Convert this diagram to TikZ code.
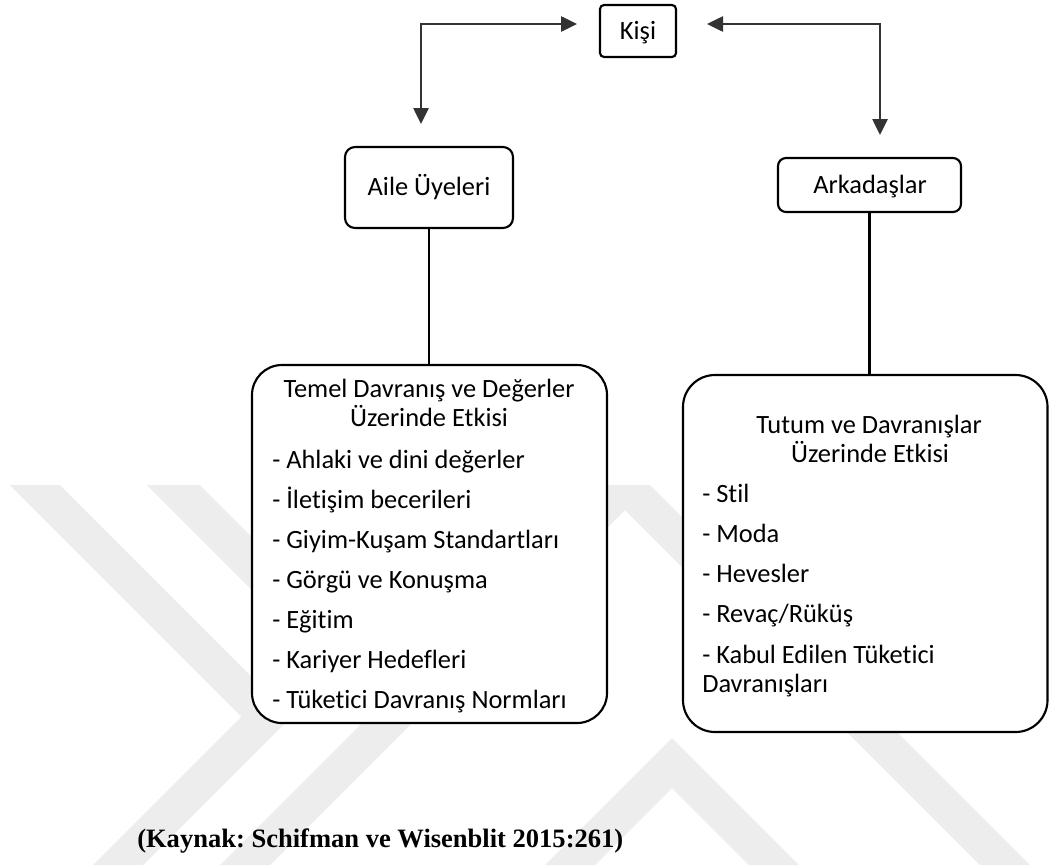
\documentclass[tikz,border=0pt]{standalone}
\usepackage{fontspec}
\setmainfont{Carlito}[Ligatures={NoCommon,NoContextual}]
\newfontfamily\refserif{Liberation Serif}
\usetikzlibrary{arrows.meta}
\frenchspacing

\definecolor{wm}{HTML}{EDEDED}
\definecolor{linkgray}{HTML}{333333}

\tikzset{
  px/.style={x=0.75pt, y=-0.75pt},
  panel/.style={draw=black, line width=1.6pt, fill=white, rounded corners=#1, inner sep=0pt},
  lbl/.style={inner sep=0pt, font={\fontsize{19.8}{21.75}\selectfont}},
  stem/.style={draw=black, line width=1.8pt},
  biarrow/.style={draw=linkgray, line width=1.1pt,
    {Triangle[length=12pt, width=11.5pt]}-{Triangle[length=12pt, width=11.5pt]}},
}

\begin{document}
\begin{tikzpicture}[px]
  \useasboundingbox (0,0) rectangle (1049,865);
  \clip (0,0) rectangle (1049,865);
  \fill[white] (0,0) rectangle (1049,865);

  % faint chevron emblem in the background
  \fill[wm] (10,485) -- (60,485) -- (291.5,716.5) -- (143,865) -- (93,865) -- (241.5,716.5) -- cycle;
  \fill[wm] (147,485) -- (200,485) -- (410,695) -- (357,695) -- cycle;
  \fill[wm] (220,865) -- (600,485) -- (650,485) -- (1030,865) -- (980,865) -- (625,510) -- (270,865) -- cycle;
  \fill[wm] (545,865) -- (672,738) -- (799,865) -- (749,865) -- (672,788) -- (595,865) -- cycle;

  % boxes
  \node[panel=3pt, minimum width=57pt, minimum height=39pt] (kisi) at (638,31) {};
  \node[panel=7.5pt, minimum width=126pt, minimum height=60.75pt] (aile) at (429,187.5) {};
  \node[panel=6pt, minimum width=137.25pt, minimum height=40.5pt] (ark) at (869.5,185) {};
  \node[panel=22.5pt, minimum width=266.25pt, minimum height=268.5pt] (temel) at (429.5,544) {};
  \node[panel=24pt, minimum width=273.4pt, minimum height=267.75pt] (tutum) at (865.25,553.5) {};

  % box titles
  \node[lbl, anchor=base] (tkisi) at (638,39) {Kişi};
  \node[lbl, anchor=base] (taile) at (429,195) {Aile Üyeleri};
  \node[lbl, anchor=base] (tark) at (870,193) {Arkadaşlar};

  % family influence
  \node[lbl, anchor=base] (th1) at (429,397) {Temel Davranış ve Değerler};
  \node[lbl, anchor=base] (th2) at (429,426) {Üzerinde Etkisi};
  \node[lbl, anchor=base west] (a1) at (272,468) {- Ahlaki ve dini değerler};
  \node[lbl, anchor=base west] (a2) at (272,508) {- İletişim becerileri};
  \node[lbl, anchor=base west] (a3) at (272,548) {- Giyim-Kuşam Standartları};
  \node[lbl, anchor=base west] (a4) at (272,588) {- Görgü ve Konuşma};
  \node[lbl, anchor=base west] (a5) at (272,628) {- Eğitim};
  \node[lbl, anchor=base west] (a6) at (272,668) {- Kariyer Hedefleri};
  \node[lbl, anchor=base west] (a7) at (272,708) {- Tüketici Davranış Normları};

  % peer influence
  \node[lbl, anchor=base] (rh1) at (869,433) {Tutum ve Davranışlar};
  \node[lbl, anchor=base] (rh2) at (870,462) {Üzerinde Etkisi};
  \node[lbl, anchor=base west] (b1) at (702,502) {- Stil};
  \node[lbl, anchor=base west] (b2) at (702,542) {- Moda};
  \node[lbl, anchor=base west] (b3) at (702,582) {- Hevesler};
  \node[lbl, anchor=base west] (b4) at (702,622) {- Revaç/Rüküş};
  \node[lbl, anchor=base west] (b5) at (702,663) {- Kabul Edilen Tüketici};
  \node[lbl, anchor=base west] (b6) at (702,692) {Davranışları};

  % two-way links from the person
  \coordinate (kL) at (577,24);
  \coordinate (kR) at (707,24);
  \coordinate (aT) at (421,124);
  \coordinate (rT) at (880,135);
  \path[biarrow] (kL) -| (aT);
  \path[biarrow] (kR) -| (rT);

  % stems into the influence boxes
  \draw[stem] (aile.south) -- (aile.south |- temel.north);
  \draw[stem] (ark.south) -- (ark.south |- tutum.north);

  % source line
  \node[anchor=base west, inner sep=0pt, font={\refserif\bfseries\fontsize{19.9}{22}\selectfont}] (src) at (137,847)
    {(Kaynak: Schifman ve Wisenblit 2015:261)};
\end{tikzpicture}
\end{document}
